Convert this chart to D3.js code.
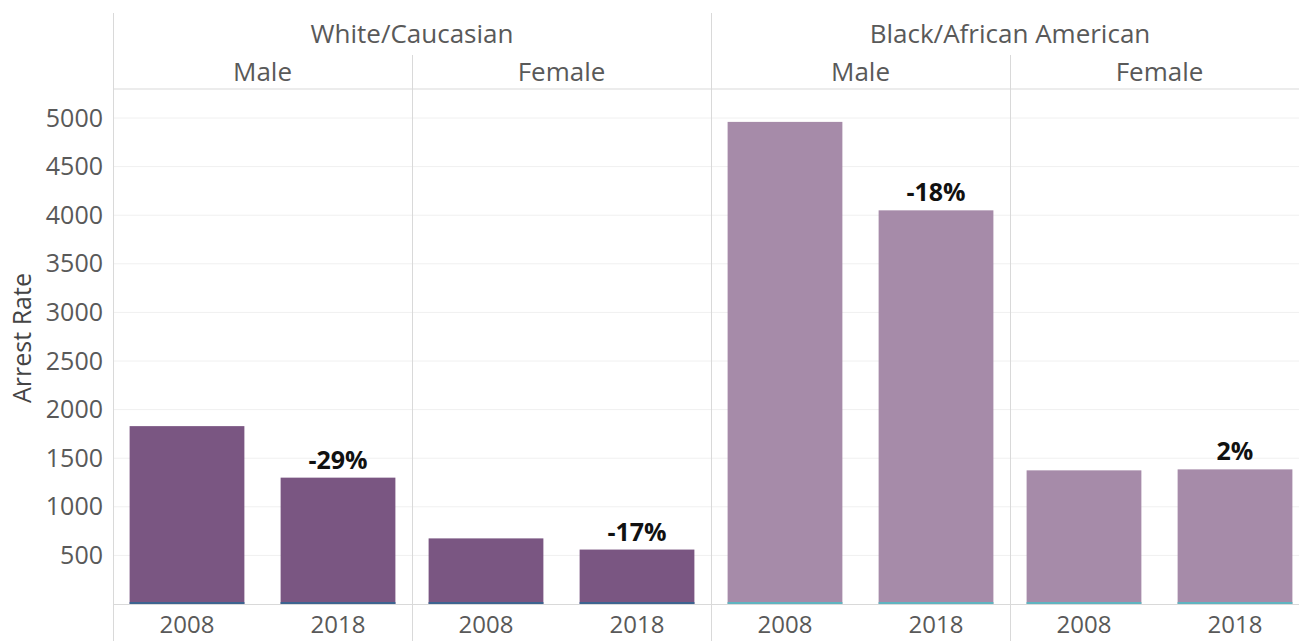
<!DOCTYPE html>
<html><head><meta charset="utf-8">
<script src="https://cdn.jsdelivr.net/npm/d3@7"></script>
<style>body{margin:0;background:#fff;}svg{display:block;font-family:"Open Sans",sans-serif;}</style>
</head><body><svg id="c" width="1299" height="641"></svg>
<script>
const races = ["White/Caucasian", "Black/African American"];
const genders = ["Male", "Female"];
const years = ["2008", "2018"];
const whiteMale = [1830, 1300];
const whiteFemale = [675, 560];
const blackMale = [4960, 4050];
const blackFemale = [1375, 1385];
const changeLabels = ["-29%", "-17%", "-18%", "2%"];
const yTicks = [500, 1000, 1500, 2000, 2500, 3000, 3500, 4000, 4500, 5000];
const barColors = ["#7a5682", "#a68ba9"];
const baseColors = ["#3d6490", "#5fb4c0"];

const panels = [
  {race:0, gender:0, vals: whiteMale, label: changeLabels[0]},
  {race:0, gender:1, vals: whiteFemale, label: changeLabels[1]},
  {race:1, gender:0, vals: blackMale, label: changeLabels[2]},
  {race:1, gender:1, vals: blackFemale, label: changeLabels[3]}
];

const svg = d3.select("#c");
const mLeft = 113, mTop = 89, mBottom = 604;
const panelW = 299;
const y = d3.scaleLinear().domain([0, 5000]).range([mBottom, mBottom - 486]);
const xPanel = d3.scaleBand().domain(d3.range(4)).range([mLeft, mLeft + 4*panelW]);
const xYear = d3.scaleBand().domain(years).range([0, panelW]).paddingInner(0.24).paddingOuter(0.11);

svg.append("g").selectAll("line").data(yTicks).join("line")
  .attr("x1", mLeft).attr("x2", 1299).attr("y1", d => y(d)).attr("y2", d => y(d))
  .attr("stroke", "#f0f0f0").attr("stroke-width", 1);

svg.append("line").attr("x1", mLeft).attr("x2", 1299).attr("y1", mTop).attr("y2", mTop).attr("stroke", "#d9d9d9");
svg.append("line").attr("x1", mLeft).attr("x2", 1299).attr("y1", mBottom+0.5).attr("y2", mBottom+0.5).attr("stroke", "#d9d9d9");
svg.append("line").attr("x1", mLeft+0.5).attr("x2", mLeft+0.5).attr("y1", 13).attr("y2", 641).attr("stroke", "#d9d9d9");
[1,2,3].forEach(i => {
  const x = xPanel(i) + 0.5;
  const y1 = (i === 2) ? 13 : 55;
  svg.append("line").attr("x1", x).attr("x2", x).attr("y1", y1).attr("y2", 641).attr("stroke", "#d9d9d9");
});

races.forEach((r, i) => {
  svg.append("text").attr("x", xPanel(i*2) + panelW).attr("y", 43)
    .attr("text-anchor", "middle").attr("font-size", 26).attr("fill", "#595959").text(r);
});
panels.forEach((p, i) => {
  svg.append("text").attr("x", xPanel(i) + panelW/2).attr("y", 81)
    .attr("text-anchor", "middle").attr("font-size", 26).attr("fill", "#595959").text(genders[p.gender]);
});

const yAxis = d3.axisLeft(y).tickValues(yTicks).tickFormat(d3.format("d")).tickSize(0).tickPadding(10);
const ga = svg.append("g").attr("transform", `translate(${mLeft},0)`).call(yAxis);
ga.select(".domain").remove();
ga.selectAll("text").attr("font-size", 25).attr("fill", "#595959").attr("font-family", "Open Sans, sans-serif");

svg.append("text").attr("transform", `translate(31,338) rotate(-90)`)
  .attr("text-anchor", "middle").attr("font-size", 25).attr("fill", "#444").text("Arrest Rate");

panels.forEach((p, i) => {
  const g = svg.append("g").attr("transform", `translate(${xPanel(i)},0)`);
  g.selectAll("rect.bar").data(p.vals).join("rect").attr("class", "bar")
    .attr("x", (d, j) => xYear(years[j])).attr("width", xYear.bandwidth())
    .attr("y", d => y(d)).attr("height", d => y(0) - y(d))
    .attr("fill", barColors[p.race]);
  g.selectAll("rect.base").data(p.vals).join("rect").attr("class", "base")
    .attr("x", (d, j) => xYear(years[j])).attr("width", xYear.bandwidth())
    .attr("y", y(0) - 2).attr("height", 2)
    .attr("fill", baseColors[p.race]);
  g.append("text").attr("x", xYear(years[1]) + xYear.bandwidth()/2).attr("y", y(p.vals[1]) - 9)
    .attr("text-anchor", "middle").attr("font-size", 25).attr("font-weight", "bold").attr("fill", "#111")
    .text(p.label);
  g.selectAll("text.yr").data(years).join("text").attr("class", "yr")
    .attr("x", d => xYear(d) + xYear.bandwidth()/2).attr("y", 633)
    .attr("text-anchor", "middle").attr("font-size", 24).attr("fill", "#595959").text(d => d);
});
</script></body></html>
